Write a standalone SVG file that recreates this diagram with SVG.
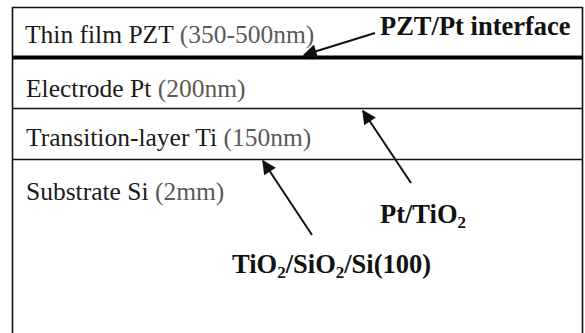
<svg xmlns="http://www.w3.org/2000/svg" width="585" height="333" viewBox="0 0 585 333">
  <style>
    .frame { fill: none; stroke: #111; stroke-width: 1.6; }
    .divider { stroke: #111; stroke-width: 1.6; }
    .interface { stroke: #000; stroke-width: 4; }
    .layer { font-family: "Liberation Serif", "Times New Roman", serif; font-size: 25.5px; fill: #1a1a1a; }
    .dim { fill: #5a5a5a; }
    .callout { font-family: "Liberation Serif", "Times New Roman", serif; font-size: 26.5px; font-weight: bold; fill: #111; }
    .sub { font-size: 17px; }
    .arrow { stroke: #111; stroke-width: 2; fill: none; marker-end: url(#head); }
  </style>
  <defs>
    <marker id="head" viewBox="0 0 10 10" refX="9" refY="5" markerWidth="8.5" markerHeight="7" markerUnits="strokeWidth" orient="auto">
      <path d="M0,0 L10,5 L0,10 z" fill="#111"/>
    </marker>
  </defs>
  <rect width="585" height="333" fill="#fff"/>

  <!-- layer stack outline; the frame runs off the bottom edge -->
  <path class="frame" d="M12.5,333 V7.5 H582.5 V333"/>
  <line class="interface" x1="12.5" y1="57.5" x2="582.5" y2="57.5"/>
  <line class="divider" x1="12.5" y1="108.5" x2="582.5" y2="108.5"/>
  <line class="divider" x1="12.5" y1="159.5" x2="582.5" y2="159.5"/>

  <g id="layer-pzt">
    <text class="layer" x="25" y="43">Thin film PZT <tspan class="dim">(350-500nm)</tspan></text>
  </g>
  <g id="layer-pt">
    <text class="layer" x="26" y="97">Electrode Pt <tspan class="dim">(200nm)</tspan></text>
  </g>
  <g id="layer-ti">
    <text class="layer" x="26" y="146">Transition-layer Ti <tspan class="dim">(150nm)</tspan></text>
  </g>
  <g id="layer-si">
    <text class="layer" x="26" y="200">Substrate Si <tspan class="dim">(2mm)</tspan></text>
  </g>

  <g id="label-pzt-pt">
    <text class="callout" x="380" y="35">PZT/Pt interface</text>
  </g>
  <g id="label-pt-tio2">
    <text class="callout" x="380" y="223">Pt/TiO<tspan class="sub" dy="5">2</tspan></text>
  </g>
  <g id="label-tio2-sio2-si">
    <text class="callout" x="232" y="273">TiO<tspan class="sub" dy="5">2</tspan><tspan dy="-5">/SiO</tspan><tspan class="sub" dy="5">2</tspan><tspan dy="-5">/Si(100)</tspan></text>
  </g>

  <g id="connectors">
    <line class="arrow" x1="375" y1="33" x2="304" y2="55"/>
    <line class="arrow" x1="411" y1="183" x2="363" y2="111"/>
    <line class="arrow" x1="312" y1="235" x2="263" y2="161"/>
  </g>
</svg>
